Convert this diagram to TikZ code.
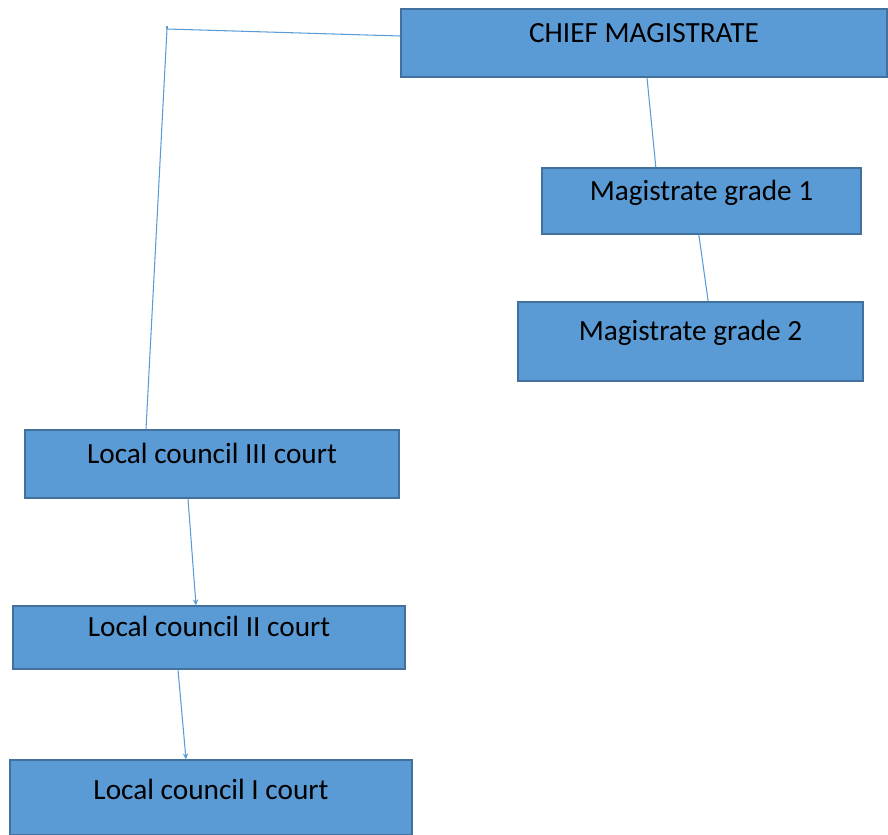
\documentclass[tikz,border=0pt]{standalone}
\usepackage{fontspec}
\setmainfont{Carlito}
\usetikzlibrary{arrows.meta}
\definecolor{boxfill}{HTML}{5B9BD5}
\definecolor{boxline}{HTML}{41719C}
\definecolor{wire}{HTML}{5B9BD5}

\begin{document}
\begin{tikzpicture}[x=0.03cm,y=-0.03cm,
  court/.style={draw=boxline,line width=1.1pt,fill=boxfill,inner sep=0pt,
    font=\fontsize{25}{30}\selectfont,text=black,
    text height=15pt,text depth=16.6pt},
  link/.style={draw=wire,line width=0.9pt},
  down/.style={link,-{Stealth[length=5pt,width=4.5pt]}}]
	\useasboundingbox (0,0) rectangle (888,835);
	% higher courts
	\node[court,minimum width=14.58cm,minimum height=2.04cm] (cm) at (644,43) {CHIEF MAGISTRATE};
	\node[court,minimum width=9.57cm,minimum height=1.98cm] (gone) at (701.5,201) {Magistrate grade 1};
	\node[court,minimum width=10.35cm,minimum height=2.37cm] (gtwo) at (690.5,341.5) {Magistrate grade 2};
	% local council courts
	\node[court,minimum width=11.22cm,minimum height=2.04cm] (lcthree) at (212,464) {Local council III court};
	\node[court,minimum width=11.76cm,minimum height=1.89cm] (lctwo) at (209,637.5) {Local council II court};
	\node[court,minimum width=12.06cm,minimum height=2.25cm,text depth=12.4pt] (lcone) at (211,797.5) {Local council I court};
	\coordinate (corner) at (167,29);
	\coordinate (tick) at (167,26);

	\draw[link] ([yshift=0.21cm]cm.west) -- (corner) -- ([xshift=-1.98cm]lcthree.north);
	\draw[link] (corner) -- (tick);
	\draw[link] ([xshift=0.09cm]cm.south) -- ([xshift=-1.37cm]gone.north);
	\draw[link] ([xshift=-0.08cm]gone.south) -- ([xshift=0.53cm]gtwo.north);
	\draw[down] ([xshift=-0.72cm]lcthree.south) -- ([xshift=-0.39cm]lctwo.north);
	\draw[down] ([xshift=-0.93cm]lctwo.south) -- ([xshift=-0.75cm]lcone.north);
\end{tikzpicture}
\end{document}
